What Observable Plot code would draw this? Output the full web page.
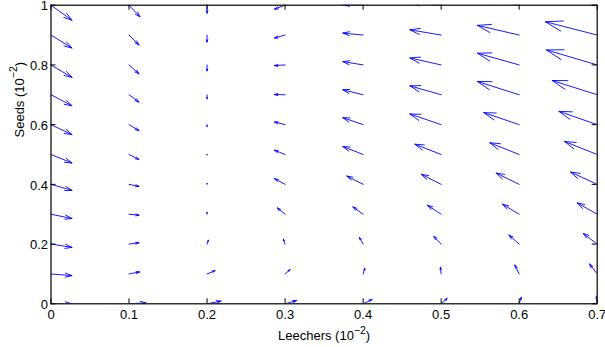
<!DOCTYPE html>
<html>
<head>
<meta charset="utf-8">
<script src="https://cdn.jsdelivr.net/npm/d3@7"></script>
<script src="https://cdn.jsdelivr.net/npm/@observablehq/plot@0.6"></script>
<style>
  html, body { margin: 0; padding: 0; background: #fff; }
  #chart { width: 605px; height: 347px; }
</style>
</head>
<body>
<div id="chart"></div>
<script>
// Grid positions (Leechers, Seeds) in units of 10^-2
const leechers = [0, 0.1, 0.2, 0.3, 0.4, 0.5, 0.6, 0.7];
const seeds = [0, 0.1, 0.2, 0.3, 0.4, 0.5, 0.6, 0.7, 0.8, 0.9, 1.0];

// Scaled vector components (rows: seeds 0 → 1; columns: leechers 0 → 0.7)
const U = [
  [0.0269, 0.0218, 0.0179, 0.0150, 0.0115, 0.0077, 0.0029, -0.0009],
  [0.0269, 0.0137, 0.0103, 0.0064, 0.0022, -0.0009, -0.0055, -0.0099],
  [0.0269, 0.0128, 0.0017, -0.0022, -0.0047, -0.0094, -0.0132, -0.0179],
  [0.0269, 0.0128, 0, -0.0099, -0.0132, -0.0176, -0.0214, -0.0256],
  [0.0269, 0.0128, 0, -0.0137, -0.0209, -0.0253, -0.0295, -0.0342],
  [0.0269, 0.0128, 0, -0.0137, -0.0260, -0.0337, -0.0376, -0.0419],
  [0.0269, 0.0128, 0, -0.0137, -0.0260, -0.0401, -0.0453, -0.0491],
  [0.0269, 0.0128, 0, -0.0137, -0.0260, -0.0401, -0.0535, -0.0577],
  [0.0269, 0.0128, 0, -0.0137, -0.0260, -0.0401, -0.0535, -0.0650],
  [0.0269, 0.0128, 0, -0.0137, -0.0260, -0.0401, -0.0535, -0.0663],
  [0.0269, 0.0141, 0, -0.0137, -0.0260, -0.0401, -0.0535, -0.0667]
];
const V = [
  [0, 0.0033, 0.0090, 0.0111, 0.0144, 0.0177, 0.0224, 0.0258],
  [-0.0057, 0.0067, 0.0111, 0.0144, 0.0191, 0.0224, 0.0301, 0.0335],
  [-0.0111, 0.0044, 0.0134, 0.0167, 0.0224, 0.0258, 0.0301, 0.0358],
  [-0.0144, -0.0033, 0.0067, 0.0211, 0.0244, 0.0301, 0.0335, 0.0378],
  [-0.0201, -0.0067, 0.0033, 0.0191, 0.0278, 0.0335, 0.0378, 0.0412],
  [-0.0285, -0.0167, -0.0017, 0.0144, 0.0268, 0.0345, 0.0392, 0.0435],
  [-0.0335, -0.0201, -0.0067, 0.0090, 0.0234, 0.0358, 0.0402, 0.0445],
  [-0.0368, -0.0244, -0.0134, 0.0010, 0.0167, 0.0301, 0.0445, 0.0479],
  [-0.0419, -0.0301, -0.0201, -0.0023, 0.0111, 0.0234, 0.0392, 0.0502],
  [-0.0435, -0.0335, -0.0234, -0.0100, 0.0067, 0.0177, 0.0325, 0.0445],
  [-0.0502, -0.0392, -0.0268, -0.0134, 0.0033, 0.0117, 0.0268, 0.0368]
];

const xTicks = [0, 0.1, 0.2, 0.3, 0.4, 0.5, 0.6, 0.7];
const yTicks = [0, 0.2, 0.4, 0.6, 0.8, 1];
const xLabelParts = ["Leechers (10", "\u22122", ")"];
const yLabelParts = ["Seeds (10", "\u22122", ")"];

// Build the vector table
const vectors = [];
seeds.forEach((s, i) => {
  leechers.forEach((l, j) => {
    vectors.push({x: l, y: s, u: U[i][j], v: V[i][j]});
  });
});

const W = 605, H = 347;
const mL = 50.5, mR = 8.3, mT = 4.7, mB = 43.7;
const plotW = W - mL - mR, plotH = H - mT - mB;
const tickLen = 5;

const xLabelText = xLabelParts.join("");
const yLabelText = yLabelParts.join("");

const chart = Plot.plot({
  width: W,
  height: H,
  marginLeft: mL,
  marginRight: mR,
  marginTop: mT,
  marginBottom: mB,
  style: {fontFamily: "'Liberation Sans', Arial, Helvetica, sans-serif", fontSize: "13px", background: "#fff", color: "#000"},
  x: {domain: [0, 0.7]},
  y: {domain: [0, 1]},
  marks: [
    Plot.arrow(vectors, {
      x1: "x", y1: "y",
      x2: d => d.x + d.u, y2: d => d.y + d.v,
      stroke: "#0000ff", strokeWidth: 0.9,
      headAngle: 34, headLength: 150,
      clip: true
    }),
    // inward ticks (bottom, top, left, right)
    Plot.ruleX(xTicks, {x: d => d, insetTop: plotH - tickLen, stroke: "#000", strokeWidth: 1}),
    Plot.ruleX(xTicks, {x: d => d, insetBottom: plotH - tickLen, stroke: "#000", strokeWidth: 1}),
    Plot.ruleY(yTicks, {y: d => d, insetRight: plotW - tickLen, stroke: "#000", strokeWidth: 1}),
    Plot.ruleY(yTicks, {y: d => d, insetLeft: plotW - tickLen, stroke: "#000", strokeWidth: 1}),
    Plot.frame({stroke: "#000", strokeWidth: 1.2}),
    Plot.axisX({ticks: xTicks, tickSize: 0, tickPadding: 6, tickFormat: d => String(d), label: null, fontSize: 13}),
    Plot.axisY({ticks: yTicks, tickSize: 0, tickPadding: 3, dy: 1, tickFormat: d => String(d), label: null, fontSize: 13}),
    Plot.text([xLabelText], {frameAnchor: "bottom", dy: 36.5, lineAnchor: "bottom", fontSize: 13, fill: "#000"}),
    Plot.text([yLabelText], {frameAnchor: "left", rotate: -90, dx: -27.5, dy: -17, lineAnchor: "bottom", fontSize: 13, fill: "#000"})
  ]
});

// Render superscript exponent as real text with tspans
function superscript(svg, full, parts) {
  d3.select(svg).selectAll("text").filter(function() { return this.textContent === full; })
    .each(function() {
      const t = d3.select(this);
      t.text(null);
      t.append("tspan").text(parts[0]);
      t.append("tspan").attr("dy", "-0.62em").attr("font-size", "10.5px").text(parts[1]);
      t.append("tspan").attr("dy", "0.5em").text(parts[2]);
    });
}
superscript(chart, xLabelText, xLabelParts);
superscript(chart, yLabelText, yLabelParts);

document.getElementById("chart").appendChild(chart);
</script>
</body>
</html>
